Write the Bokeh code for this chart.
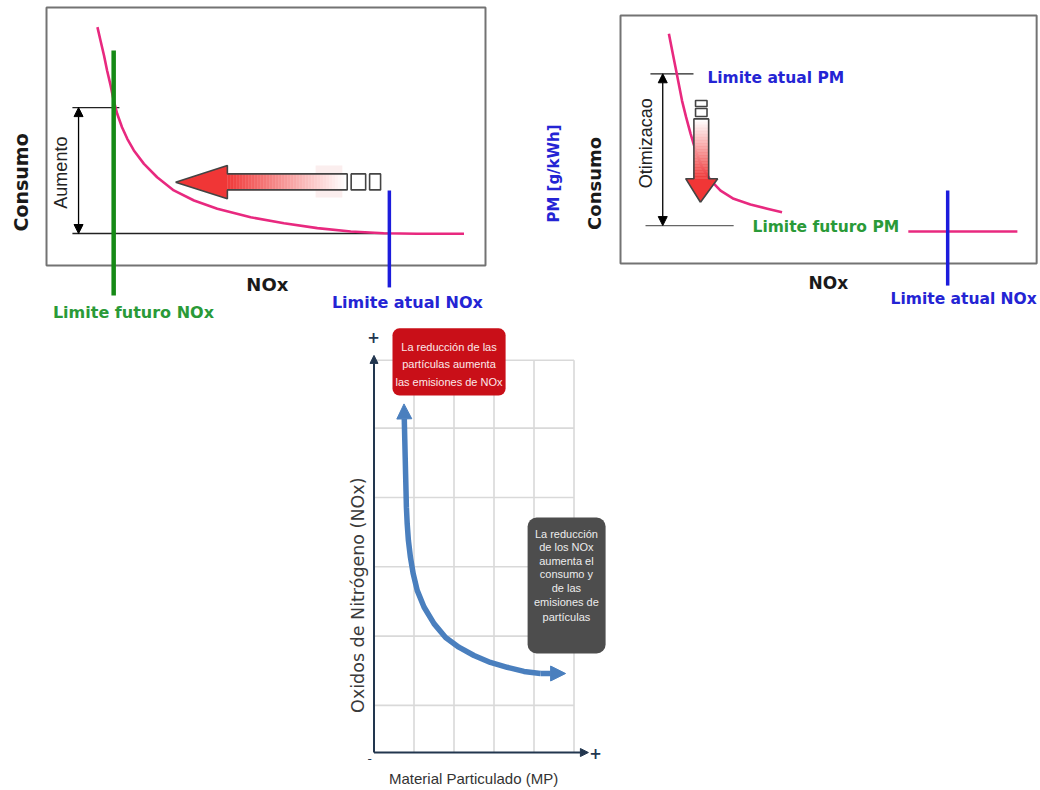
import numpy as np
from bokeh.plotting import figure
from bokeh.models import Range1d, Arrow, NormalHead, BoxAnnotation, Spacer
from bokeh.layouts import column, row
from bokeh.core.properties import value
from bokeh.embed import file_html
from bokeh.resources import INLINE

# ---------------- data (schematic units, plot box = 0..100) ----------------
# Panel 1: Consumo vs NOx
p1_nox = [11.6, 12.3, 13.1, 13.8, 14.6, 15.3, 16.1, 17.2, 18.4, 19.9, 22.2, 25.2,
          29.0, 33.6, 38.9, 46.5, 54.1, 61.7, 69.3, 76.8, 84.4, 95.1]
p1_consumo = [92.4, 87.2, 81.4, 75.6, 69.8, 64.0, 58.8, 53.6, 49.1, 44.6, 39.4, 34.2,
              29.1, 25.2, 22.0, 18.7, 16.4, 14.5, 13.2, 12.5, 12.3, 12.3]
p1_lim_futuro_nox = 15.3
p1_lim_atual_nox = 78.1
p1_consumo_base = 12.4
p1_consumo_alto = 61.2

# Panel 2: PM vs NOx
p2_nox = [11.8, 12.6, 13.4, 14.2, 15.0, 16.0, 17.1, 18.3, 19.9, 22.0, 24.4, 27.6, 31.7, 35.8, 39.4]
p2_pm = [92.6, 85.9, 79.2, 72.5, 65.7, 59.0, 52.3, 45.6, 38.8, 33.5, 29.4, 26.1, 23.8, 22.1, 20.7]
p2_tail_nox = [70.2, 96.8]
p2_tail_pm = [12.9, 12.9]
p2_lim_atual_nox = 79.8
p2_pm_atual = 76.5
p2_pm_futuro = 15.3

# Panel 3: NOx vs Material Particulado (arrow tips at both ends)
p3_mp = [0.75, 0.76, 0.77, 0.78, 0.79, 0.80, 0.81, 0.83, 0.86, 0.91, 0.98, 1.08, 1.25,
         1.50, 1.79, 2.12, 2.50, 2.91, 3.33, 3.75, 4.16, 4.79]
p3_nox = [5.03, 4.74, 4.50, 4.26, 4.02, 3.78, 3.54, 3.30, 3.06, 2.82, 2.58, 2.34, 2.10,
          1.86, 1.66, 1.52, 1.40, 1.30, 1.23, 1.17, 1.14, 1.14]
p3_grid_x = [1, 2, 3, 4, 5]
p3_grid_y = [0.68, 1.68, 2.68, 3.68, 4.68, 5.66]
p3_red_text = ["La reducción de las", "partículas aumenta", "las emisiones de NOx"]
p3_gray_text = ["La reducción", "de los NOx", "aumenta el", "consumo y", "de las",
                "emisiones de", "partículas"]

# ---------------- styles ----------------
PINK = "#e8297f"
GREEN_LINE = "#168a16"
GREEN_TXT = "#2a9a38"
BLUE_LINE = "#1c1cdc"
BLUE_TXT = "#2424d4"
BOLD = value("DejaVu Sans")
ARIAL = value("Liberation Sans")


def make_fig(w, h, xr, yr):
    p = figure(width=w, height=h, x_range=Range1d(*xr), y_range=Range1d(*yr),
               toolbar_location=None, output_backend="svg", min_border=0,
               x_axis_location=None, y_axis_location=None)
    p.grid.visible = False
    p.outline_line_color = None
    p.background_fill_color = "white"
    p.border_fill_color = "white"
    return p


def grad(n, c0, c1):
    out = []
    for t in np.linspace(0, 1, n):
        out.append("#%02x%02x%02x" % tuple(int(round(a + (b - a) * t)) for a, b in zip(c0, c1)))
    return out


# ================= Panel 1 =================
p1 = make_fig(508, 326, (-10.48, 105.24), (-23.64, 102.71))
p1.quad(left=0, right=100, bottom=0, top=100, fill_alpha=0, line_color="#737373", line_width=2)
p1.segment(x0=[5.9, 5.9], y0=[p1_consumo_alto, p1_consumo_base],
           x1=[16.6, p1_lim_atual_nox], y1=[p1_consumo_alto, p1_consumo_base],
           line_color="#222222", line_width=1.3)
p1.add_layout(Arrow(start=NormalHead(size=9, fill_color="black", line_color="black"),
                    end=NormalHead(size=9, fill_color="black", line_color="black"),
                    x_start=7.3, y_start=p1_consumo_alto, x_end=7.3, y_end=p1_consumo_base,
                    line_width=1.3, line_color="black"))
# faint highlight behind arrow
p1.quad(left=61.3, right=67.4, bottom=26.4, top=38.8, fill_color="#fbeeee", line_color=None)
p1.line(p1_nox, p1_consumo, line_color=PINK, line_width=2.6, line_join="round")
p1.segment(x0=p1_lim_futuro_nox, y0=83.3, x1=p1_lim_futuro_nox, y1=-11.6,
           line_color=GREEN_LINE, line_width=4.5)
p1.segment(x0=p1_lim_atual_nox, y0=29.1, x1=p1_lim_atual_nox, y1=-8.5,
           line_color=BLUE_LINE, line_width=3.5)
# red gradient arrow pointing left
n = 40
edges = np.linspace(41.2, 68.5, n + 1)
cols = grad(n, (240, 60, 60), (255, 255, 255))
p1.quad(left=edges[:-1], right=edges[1:], bottom=29.3, top=35.5,
        fill_color=cols, line_color=cols, line_width=0.5)
p1.patch([29.4, 41.2, 41.2], [32.3, 38.8, 25.9], fill_color="#f03636", line_color=None)
p1.line([29.4, 41.2, 41.2, 68.5, 68.5, 41.2, 41.2, 29.4],
        [32.3, 38.8, 35.5, 35.5, 29.3, 29.3, 25.9, 32.3], line_color="#444444", line_width=1.6)
p1.quad(left=[69.4, 73.6], right=[72.7, 76.1], bottom=29.3, top=35.5,
        fill_color="white", line_color="#444444", line_width=1.6)
# texts
p1.text(x=[3.4], y=[36.0], text=["Aumento"], angle=np.pi / 2, text_font=ARIAL,
        text_font_size="18px", text_align="center", text_baseline="middle", text_color="#222222")
p1.text(x=[-5.9], y=[32.2], text=["Consumo"], angle=np.pi / 2, text_font=BOLD,
        text_font_style="bold", text_font_size="19px", text_align="center",
        text_baseline="middle", text_color="#1a1a1a")
p1.text(x=[50.3], y=[-7.4], text=["NOx"], text_font=BOLD, text_font_style="bold",
        text_font_size="18px", text_align="center", text_baseline="middle", text_color="#1a1a1a")
p1.text(x=[19.8], y=[-18.2], text=["Limite futuro NOx"], text_font=BOLD, text_font_style="bold",
        text_font_size="16px", text_align="center", text_baseline="middle", text_color=GREEN_TXT)
p1.text(x=[82.2], y=[-14.3], text=["Limite atual NOx"], text_font=BOLD, text_font_style="bold",
        text_font_size="16px", text_align="center", text_baseline="middle", text_color=BLUE_TXT)

# ================= Panel 2 =================
p2 = make_fig(532, 326, (-27.32, 102.44), (-25.40, 106.05))
p2.quad(left=0, right=101.5, bottom=0, top=100, fill_alpha=0, line_color="#737373", line_width=2)
p2.segment(x0=[7.3, 6.1], y0=[p2_pm_atual, p2_pm_futuro], x1=[17.8, 27.6],
           y1=[p2_pm_atual, p2_pm_futuro], line_color=["#222222", "#666666"], line_width=1.3)
p2.add_layout(Arrow(start=NormalHead(size=9, fill_color="black", line_color="black"),
                    end=NormalHead(size=9, fill_color="black", line_color="black"),
                    x_start=10.3, y_start=p2_pm_atual, x_end=10.3, y_end=p2_pm_futuro,
                    line_width=1.3, line_color="black"))
p2.line(p2_nox, p2_pm, line_color=PINK, line_width=2.6, line_join="round")
p2.line(p2_tail_nox, p2_tail_pm, line_color=PINK, line_width=2.6)
p2.segment(x0=p2_lim_atual_nox, y0=29.4, x1=p2_lim_atual_nox, y1=-8.9,
           line_color=BLUE_LINE, line_width=3.5)
# red gradient arrow pointing down
edges2 = np.linspace(34.2, 58.3, n + 1)
cols2 = grad(n, (240, 60, 60), (255, 255, 255))
p2.quad(left=17.9, right=21.5, bottom=edges2[:-1], top=edges2[1:],
        fill_color=cols2, line_color=cols2, line_width=0.5)
p2.patch([15.9, 23.7, 19.5], [34.2, 34.2, 24.7], fill_color="#f03636", line_color=None)
p2.line([19.5, 15.9, 17.9, 17.9, 21.5, 21.5, 23.7, 19.5],
        [24.7, 34.2, 34.2, 58.3, 58.3, 34.2, 34.2, 24.7], line_color="#444444", line_width=1.6)
p2.quad(left=18.3, right=21.1, bottom=[63.3, 59.3], top=[65.7, 62.5],
        fill_color="white", line_color="#444444", line_width=1.6)
# texts
p2.text(x=[6.3], y=[48.5], text=["Otimizacao"], angle=np.pi / 2, text_font=ARIAL,
        text_font_size="18px", text_align="center", text_baseline="middle", text_color="#222222")
p2.text(x=[-6.3], y=[32.3], text=["Consumo"], angle=np.pi / 2, text_font=BOLD,
        text_font_style="bold", text_font_size="18px", text_align="center",
        text_baseline="middle", text_color="#1a1a1a")
p2.text(x=[-16.3], y=[36.3], text=["PM [g/kWh]"], angle=np.pi / 2, text_font=BOLD,
        text_font_style="bold", text_font_size="15px", text_align="center",
        text_baseline="middle", text_color=BLUE_TXT)
p2.text(x=[50.7], y=[-7.7], text=["NOx"], text_font=BOLD, text_font_style="bold",
        text_font_size="17px", text_align="center", text_baseline="middle", text_color="#1a1a1a")
p2.text(x=[21.2], y=[75.0], text=["Limite atual PM"], text_font=BOLD, text_font_style="bold",
        text_font_size="15.5px", text_align="left", text_baseline="middle", text_color=BLUE_TXT)
p2.text(x=[32.2], y=[14.9], text=["Limite futuro PM"], text_font=BOLD, text_font_style="bold",
        text_font_size="15.5px", text_align="left", text_baseline="middle", text_color=GREEN_TXT)
p2.text(x=[83.7], y=[-14.5], text=["Limite atual NOx"], text_font=BOLD, text_font_style="bold",
        text_font_size="15.5px", text_align="center", text_baseline="middle", text_color=BLUE_TXT)

# ================= Panel 3 =================
p3 = make_fig(290, 464, (-0.8375, 6.4125), (-0.548, 6.147))
GRID = "#d9d9d9"
p3.segment(x0=p3_grid_x, y0=0, x1=p3_grid_x, y1=p3_grid_y[-1], line_color=GRID, line_width=1.6)
p3.segment(x0=0, y0=p3_grid_y, x1=p3_grid_x[-1], y1=p3_grid_y, line_color=GRID, line_width=1.6)
AX = "#22364f"
p3.add_layout(Arrow(end=NormalHead(size=8, fill_color=AX, line_color=AX),
                    x_start=0, y_start=0, x_end=0, y_end=5.73, line_color=AX, line_width=2))
p3.add_layout(Arrow(end=NormalHead(size=8, fill_color=AX, line_color=AX),
                    x_start=0, y_start=0, x_end=5.36, y_end=0, line_color=AX, line_width=2))
CURVE = "#4a7fbe"
p3.line(p3_mp[1:-1], p3_nox[1:-1], line_color=CURVE, line_width=5.5, line_join="round")
p3.add_layout(Arrow(end=NormalHead(size=15, fill_color=CURVE, line_color=CURVE),
                    x_start=p3_mp[1], y_start=p3_nox[1], x_end=p3_mp[0], y_end=p3_nox[0],
                    line_color=CURVE, line_width=5.5))
p3.add_layout(Arrow(end=NormalHead(size=15, fill_color=CURVE, line_color=CURVE),
                    x_start=p3_mp[-2], y_start=p3_nox[-2], x_end=p3_mp[-1], y_end=p3_nox[-1],
                    line_color=CURVE, line_width=5.5))
p3.add_layout(BoxAnnotation(left=0.4625, right=3.29, bottom=5.15, top=6.12,
                            fill_color="#c90f18", fill_alpha=1, line_color=None, border_radius=7))
p3.add_layout(BoxAnnotation(left=3.84, right=5.79, bottom=1.43, top=3.39,
                            fill_color="#4d4d4d", fill_alpha=1, line_color=None, border_radius=9))
p3.text(x=[1.875] * 3, y=[5.85, 5.61, 5.35], text=p3_red_text, text_font=ARIAL,
        text_font_size="11px", text_align="center", text_baseline="middle",
        text_color="#fbe9e9", level="overlay")
p3.text(x=[4.81] * 7, y=[3.16, 2.96, 2.77, 2.58, 2.38, 2.17, 1.95], text=p3_gray_text,
        text_font=ARIAL, text_font_size="11px", text_align="center", text_baseline="middle",
        text_color="#ececec", level="overlay")
p3.text(x=[-0.39], y=[2.27], text=["Oxidos de Nitrógeno (NOx)"], angle=np.pi / 2,
        text_font=value("DejaVu Sans"), text_font_size="17.5px", text_align="center",
        text_baseline="middle", text_color="#3a3a3a")
p3.text(x=[2.49], y=[-0.37], text=["Material Particulado (MP)"], text_font=ARIAL,
        text_font_size="15px", text_align="center", text_baseline="middle", text_color="#333333")
p3.text(x=[-0.01, 5.54], y=[5.99, 0.0], text=["+", "+"], text_font=BOLD, text_font_style="bold",
        text_font_size="15px", text_align="center", text_baseline="middle", text_color=AX)
p3.text(x=[-0.11], y=[-0.09], text=["-"], text_font=BOLD, text_font_size="12px",
        text_align="center", text_baseline="middle", text_color=AX)

layout = column(row(p1, p2), row(Spacer(width=340, height=464), p3))
open("out.html", "w").write(file_html(layout, INLINE))
